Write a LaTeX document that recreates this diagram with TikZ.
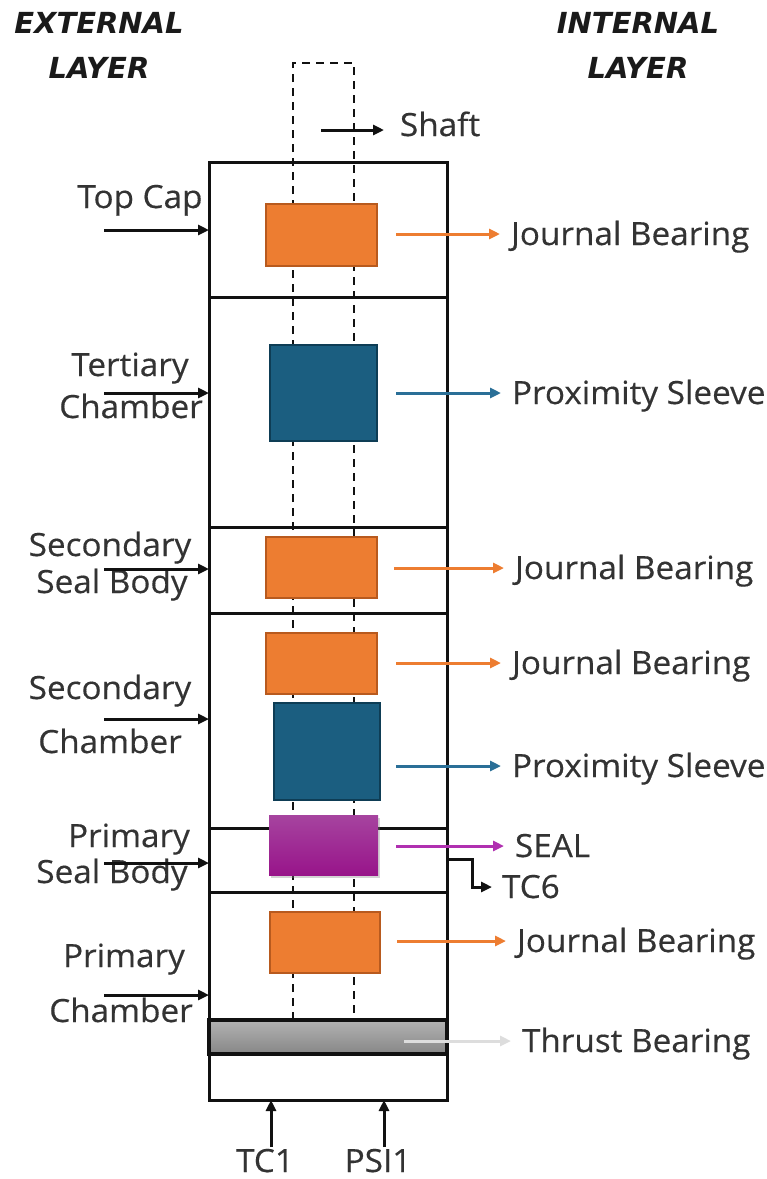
\documentclass[tikz,border=0pt]{standalone}
\usepackage{fontspec}
\setmainfont{Open Sans}[FakeStretch=1.04, FakeBold=0.4]
\newfontfamily\hdrfont{DejaVu Sans}
\usetikzlibrary{arrows.meta,shadows}
\definecolor{jbfill}{HTML}{ED7D31}
\definecolor{jbdraw}{HTML}{B85A1E}
\definecolor{psfill}{HTML}{1B5E80}
\definecolor{psdraw}{HTML}{0E3D55}
\definecolor{sealtop}{HTML}{A6449F}
\definecolor{sealbot}{HTML}{98148A}
\definecolor{sealarr}{HTML}{B030B0}
\definecolor{psarr}{HTML}{2A6F97}
\definecolor{tbarr}{HTML}{DDDDDD}
\definecolor{txt}{HTML}{333333}
\definecolor{hdrc}{HTML}{1A1A1A}
\definecolor{linec}{HTML}{111111}
\begin{document}
\begin{tikzpicture}[x=1pt,y=-1pt,
  lbl/.style={font=\fontsize{32}{36}\selectfont, text=txt, inner sep=0pt, outer sep=0pt, text height=22pt, text depth=0pt, anchor=west},
  wl/.style={font=\fontsize{32}{36}\selectfont, text=txt, inner sep=0pt, anchor=base},
  hdr/.style={font=\hdrfont\bfseries\itshape\fontsize{29}{32}\selectfont, text=hdrc, inner sep=0pt, anchor=base},
  comp/.style={line width=2pt, inner sep=0pt, outer sep=0pt, anchor=north west},
  jbbox/.style={comp, fill=jbfill, draw=jbdraw, minimum width=111pt, minimum height=62pt},
  psbox/.style={comp, fill=psfill, draw=psdraw},
  shaftline/.style={line width=2.4pt, dash pattern=on 8pt off 6pt, draw=linec},
  sepline/.style={line width=3pt, draw=linec},
  karr/.style={line width=3pt, draw=linec, -{Triangle[length=11pt,width=10pt]}},
  carr/.style={line width=3pt, shorten <=19pt, shorten >=11pt, -{Triangle[length=11pt,width=10pt]}}
]
\useasboundingbox (0,0) rectangle (767,1179);

% headers
\node[hdr] (ext1) at (99,33) {EXTERNAL};
\node[hdr] (ext2) at (99,78) {LAYER};
\node[hdr] (int1) at (638,33) {INTERNAL};
\node[hdr] (int2) at (638,78) {LAYER};

% shaft (dashed)
\draw[shaftline] (293,1020) -- (293,63) -- (354,63) -- (354,1020);

% outer box and section lines
\node[draw=linec, line width=3pt, inner sep=0pt, outer sep=0pt, anchor=north west,
      minimum width=238pt, minimum height=938pt] (box) at (209,162) {};
\draw[sepline] (209,297) -- (447,297);
\draw[sepline] (209,527) -- (447,527);
\draw[sepline] (209,613) -- (447,613);
\draw[sepline] (209,828) -- (447,828);
\draw[sepline] (209,892) -- (447,892);
\node[comp, top color=gray!60, bottom color=gray!95!black!90, draw=linec, line width=3.2pt,
      minimum width=238pt, minimum height=34pt] (tb) at (209,1020) {};

% components
\node[jbbox] (jb1) at (266,204) {};
\node[psbox, minimum width=107pt, minimum height=96pt] (ps1) at (270,345) {};
\node[jbbox, minimum height=61pt] (jb2) at (266,537) {};
\node[jbbox, minimum height=61pt] (jb3) at (266,633) {};
\node[psbox, minimum width=106pt, minimum height=97pt] (ps2) at (274,703) {};
\node[comp, top color=sealtop, bottom color=sealbot, draw=none,
      drop shadow={opacity=0.35, shadow xshift=2pt, shadow yshift=-3pt},
      minimum width=109pt, minimum height=60pt] (seal) at (269,815) {};
\node[jbbox, minimum width=110pt, minimum height=61pt] (jb4) at (270,912) {};

% right labels
\node[lbl] (shaft) at (400,125) {Shaft};
\node[lbl] (l1) at (511,234) {Journal Bearing};
\node[lbl] (l2) at (512,393) {Proximity Sleeve};
\node[lbl] (l3) at (515,568) {Journal Bearing};
\node[lbl] (l4) at (512,663) {Journal Bearing};
\node[lbl] (l5) at (512,766) {Proximity Sleeve};
\node[lbl] (l6) at (515,846) {SEAL};
\node[lbl] (l7) at (502,887) {TC6};
\node[lbl] (l8) at (517,941) {Journal Bearing};
\node[lbl] (l9) at (522,1041) {Thrust Bearing};

% right arrows
\coordinate (sh0) at (321,130);
\draw[karr, shorten >=16pt] (sh0) -- (sh0 -| shaft.west);
\draw[carr, draw=jbfill] (jb1.east |- l1.west) -- (l1.west);
\draw[carr, draw=psarr] (ps1.east |- l2.west) -- (l2.west);
\draw[carr, draw=jbfill, shorten <=17pt] (jb2.east |- l3.west) -- (l3.west);
\draw[carr, draw=jbfill] (jb3.east |- l4.west) -- (l4.west);
\draw[carr, draw=psarr, shorten <=16pt] (ps2.east |- l5.west) -- (l5.west);
\draw[carr, draw=sealarr, shorten <=18pt] (seal.east |- l6.west) -- (l6.west);
\draw[carr, draw=jbfill, shorten <=17pt] (jb4.east |- l8.west) -- (l8.west);
\draw[carr, draw=tbarr, shorten <=-43pt] (tb.east |- l9.west) -- (l9.west);
\coordinate (tc6s) at (447,859);
\draw[line width=3pt, draw=linec, shorten >=10pt, -{Triangle[length=11pt,width=10pt]}]
  (tc6s) -- (472,859) |- (l7.west);

% left labels
\node[wl] (w1) at (140,208) {Top Cap};
\node[wl] (w2) at (130,376) {Tertiary};
\node[wl] (w3) at (131,418) {Chamber};
\node[wl] (w4) at (110,556) {Secondary};
\node[wl] (w5) at (112,593) {Seal Body};
\node[wl] (w6) at (110,699) {Secondary};
\node[wl] (w7) at (110,753) {Chamber};
\node[wl] (w8) at (129,847) {Primary};
\node[wl] (w9) at (112,883) {Seal Body};
\node[wl] (w10) at (124,967) {Primary};
\node[wl] (w11) at (121,1022) {Chamber};

% left arrows
\coordinate (la1) at (104,230);
\coordinate (la2) at (104,393);
\coordinate (la3) at (104,569);
\coordinate (la4) at (104,719);
\coordinate (la5) at (104,863);
\coordinate (la6) at (104,995);
\foreach \p in {la1,la2,la3,la4,la5,la6}
  \draw[karr] (\p) -- (\p -| box.west);

% bottom
\node[wl] (tc1) at (265,1172) {TC1};
\node[wl] (psi1) at (378,1172) {PSI1};
\coordinate (ba1) at (271,1147);
\coordinate (ba2) at (384,1147);
\draw[karr] (ba1) -- (ba1 |- box.south);
\draw[karr] (ba2) -- (ba2 |- box.south);
\end{tikzpicture}
\end{document}
